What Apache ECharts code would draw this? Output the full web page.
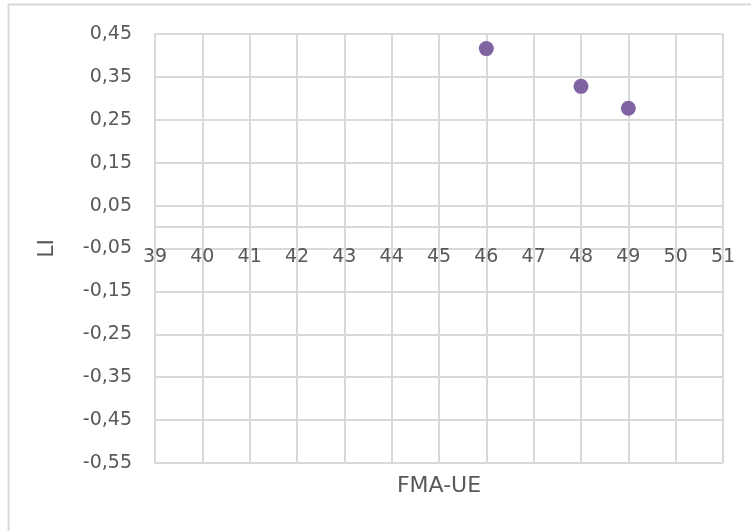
<!DOCTYPE html>
<html>
<head>
<meta charset="utf-8">
<script src="https://cdn.jsdelivr.net/npm/echarts@6/dist/echarts.min.js"></script>
<style>
  html, body { margin: 0; padding: 0; background: #ffffff; }
  #chart { width: 751px; height: 531px; }
</style>
</head>
<body>
<div id="chart"></div>
<script>
// FMA-UE score against laterality index (LI)
const fmaUe = [46, 48, 49];
const liValues = [0.416, 0.328, 0.277];

// Axis ranges and tick values
const xMin = 39, xMax = 51, xStep = 1;
const yMin = -0.55, yMax = 0.45;
const yTicks = [-0.55, -0.45, -0.35, -0.25, -0.15, -0.05, 0.05, 0.15, 0.25, 0.35, 0.45];

const xTitle = 'FMA-UE';
const yTitle = 'LI';

const gridColor = '#d9d9d9';
const textColor = '#595959';
const fontFamily = '"DejaVu Sans", sans-serif';

const gridTop = 34, gridBottom = 68, chartHeight = 531;
const plotHeight = chartHeight - gridTop - gridBottom;
// the horizontal axis crosses the vertical one at LI = 0
const zeroOffset = -Math.round(plotHeight * (0 - yMin) / (yMax - yMin));

const chart = echarts.init(document.getElementById('chart'), null, { renderer: 'canvas' });

const points = fmaUe.map((x, i) => [x, liValues[i]]);

chart.setOption({
  animation: false,
  backgroundColor: '#ffffff',
  grid: { left: 155, right: 28, top: gridTop, bottom: gridBottom, containLabel: false },
  xAxis: {
    type: 'value',
    min: xMin,
    max: xMax,
    interval: xStep,
    position: 'bottom',
    offset: zeroOffset,
    axisLine: { show: true, onZero: false, lineStyle: { color: gridColor, width: 2 } },
    axisTick: { show: false },
    axisLabel: {
      color: textColor,
      fontFamily: fontFamily,
      fontSize: 19,
      margin: 21,
      formatter: v => String(v)
    },
    splitLine: { show: true, lineStyle: { color: gridColor, width: 2 } }
  },
  yAxis: {
    type: 'value',
    min: yMin,
    max: yMax,
    name: yTitle,
    nameLocation: 'middle',
    nameRotate: 90,
    nameGap: 97,
    nameTextStyle: { color: textColor, fontFamily: fontFamily, fontSize: 22 },
    axisLine: { show: true, lineStyle: { color: gridColor, width: 2 } },
    axisTick: { show: false, customValues: yTicks },
    axisLabel: {
      color: textColor,
      fontFamily: fontFamily,
      fontSize: 19,
      margin: 23,
      customValues: yTicks,
      formatter: v => v.toFixed(2).replace('.', ',')
    },
    splitLine: { show: true, lineStyle: { color: gridColor, width: 2 } }
  },
  graphic: [
    {
      type: 'rect',
      silent: true,
      z: -10,
      shape: { x: 8.5, y: 4.5, width: 760, height: 540 },
      style: { fill: 'none', stroke: gridColor, lineWidth: 2 }
    },
    {
      type: 'text',
      silent: true,
      x: 439,
      y: 486,
      style: {
        text: xTitle,
        fill: textColor,
        font: '22px ' + fontFamily,
        textAlign: 'center',
        textVerticalAlign: 'middle'
      }
    }
  ],
  series: [
    {
      type: 'scatter',
      data: points,
      symbol: 'circle',
      symbolSize: 15,
      itemStyle: { color: '#8064a2', opacity: 1 },
      z: 5
    }
  ]
});
</script>
</body>
</html>
